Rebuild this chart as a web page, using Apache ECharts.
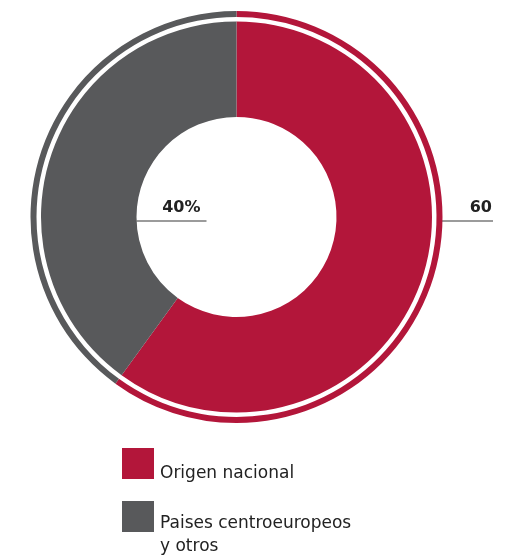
<!DOCTYPE html>
<html>
<head>
<meta charset="utf-8">
<script src="https://cdn.jsdelivr.net/npm/echarts@6/dist/echarts.min.js"></script>
<style>
  html, body { margin: 0; padding: 0; background: #ffffff; }
  #chart { width: 519px; height: 560px; }
</style>
</head>
<body>
<div id="chart"></div>
<script>
// Origin shares (percent)
var categories = ['Origen nacional', 'Paises centroeuropeos y otros'];
var shares = [60, 40];
var labelSuffix = ['', '%'];
var colors = ['#b3163a', '#58595b'];

// Ring geometry (pixels)
var CX = 236.5, CY = 217;
var R_IN = 100, R_OUT = 195.5;
var RING_IN = 200, RING_OUT = 206;

var FONT = '"DejaVu Sans", sans-serif';

var pieData = categories.map(function (name, i) {
  return { name: name, value: shares[i], itemStyle: { color: colors[i] } };
});

// Legend text: a spacer line pushes the name down so its baseline sits at the swatch bottom
function legendText(spacer, lineHeight) {
  return {
    fontFamily: FONT,
    fontSize: 17,
    color: '#222222',
    rich: {
      s: { fontSize: 1, lineHeight: spacer },
      t: { fontFamily: FONT, fontSize: 17, color: '#222222', lineHeight: lineHeight, padding: [0, 0, 0, 1] }
    }
  };
}

var chart = echarts.init(document.getElementById('chart'), null, { renderer: 'canvas' });

chart.setOption({
  backgroundColor: '#ffffff',
  animation: false,
  legend: [
    {
      data: [categories[0]],
      orient: 'vertical',
      left: 122,
      top: 448,
      padding: 0,
      icon: 'rect',
      itemWidth: 32,
      itemHeight: 31,
      selectedMode: false,
      formatter: function (name) {
        return '{s| }\n{t|' + name + '}';
      },
      textStyle: legendText(21, 21)
    },
    {
      data: [categories[1]],
      orient: 'vertical',
      left: 122,
      top: 493.5,
      padding: 0,
      icon: 'rect',
      itemWidth: 32,
      itemHeight: 31,
      selectedMode: false,
      formatter: function (name) {
        return '{s| }\n' + name.split(' y ').map(function (part, i) {
          return '{t|' + (i ? 'y ' : '') + part + '}';
        }).join('\n');
      },
      textStyle: legendText(37.5, 22.5)
    }
  ],
  series: [
    {
      name: 'Origen',
      type: 'pie',
      center: [CX, CY],
      radius: [R_IN, R_OUT],
      startAngle: 90,
      clockwise: true,
      silent: true,
      avoidLabelOverlap: false,
      data: pieData,
      label: {
        show: true,
        overflow: 'none',
        fontFamily: FONT,
        fontSize: 16,
        fontWeight: 'bold',
        color: '#222222',
        formatter: function (p) {
          return p.value + labelSuffix[p.dataIndex];
        }
      },
      labelLine: {
        show: true,
        lineStyle: { color: '#7a7a7a', width: 1.4 }
      },
      labelLayout: function (p) {
        var y = CY + 4;
        if (p.dataIndex === 1) {
          var x0 = CX - R_IN;
          return {
            x: x0 + 64, y: y - 13, align: 'right', verticalAlign: 'middle',
            labelLinePoints: [[x0, y], [x0 + 35, y], [x0 + 70, y]]
          };
        }
        var x1 = CX + RING_OUT - 1.5;
        return {
          x: x1 + 51, y: y - 13, align: 'right', verticalAlign: 'middle',
          labelLinePoints: [[x1, y], [x1 + 26, y], [x1 + 52, y]]
        };
      }
    },
    {
      name: 'Contorno',
      type: 'pie',
      center: [CX, CY],
      radius: [RING_IN, RING_OUT],
      startAngle: 90,
      clockwise: true,
      silent: true,
      label: { show: false },
      labelLine: { show: false },
      data: pieData
    }
  ]
});
</script>
</body>
</html>
